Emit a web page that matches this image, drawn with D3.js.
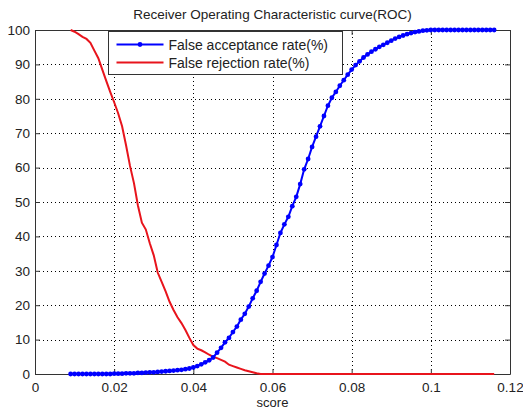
<!DOCTYPE html>
<html>
<head>
<meta charset="utf-8">
<script src="https://cdn.jsdelivr.net/npm/d3@7"></script>
<style>
  body { margin: 0; background: #fff; }
  text { font-family: "Liberation Sans", Arial, sans-serif; fill: #222; }
</style>
</head>
<body>
<div id="chart"></div>
<script>
// score thresholds (x)
let scores = [0.009, 0.010, 0.011, 0.012, 0.013, 0.014, 0.015, 0.016, 0.017, 0.018,
  0.019, 0.020, 0.021, 0.022, 0.023, 0.024, 0.025, 0.026, 0.027, 0.028,
  0.029, 0.030, 0.031, 0.032, 0.033, 0.034, 0.035, 0.036, 0.037, 0.038,
  0.039, 0.040, 0.041, 0.042, 0.043, 0.044, 0.045, 0.046, 0.047, 0.048,
  0.049, 0.050, 0.051, 0.052, 0.053, 0.054, 0.055, 0.056, 0.057, 0.058,
  0.059, 0.060, 0.061, 0.062, 0.063, 0.064, 0.065, 0.066, 0.067, 0.068,
  0.069, 0.070, 0.071, 0.072, 0.073, 0.074, 0.075, 0.076, 0.077, 0.078,
  0.079, 0.080, 0.081, 0.082, 0.083, 0.084, 0.085, 0.086, 0.087, 0.088,
  0.089, 0.090, 0.091, 0.092, 0.093, 0.094, 0.095, 0.096, 0.097, 0.098,
  0.099, 0.100, 0.101, 0.102, 0.103, 0.104, 0.105, 0.106, 0.107, 0.108,
  0.109, 0.110, 0.111, 0.112, 0.113, 0.114, 0.115, 0.116];

// False acceptance rate(%)
let far = [0, 0, 0, 0, 0, 0, 0, 0, 0, 0,
  0, 0.1, 0.1, 0.1, 0.2, 0.2, 0.2, 0.3, 0.3, 0.4,
  0.5, 0.5, 0.6, 0.7, 0.8, 0.9, 1.0, 1.1, 1.2, 1.4,
  1.6, 1.9, 2.3, 2.8, 3.4, 4.0, 4.8, 6.2, 7.6, 9.2,
  10.5, 12.2, 13.8, 15.8, 17.5, 19.6, 22.0, 24.2, 26.8, 29.2,
  31.5, 34.0, 37.5, 41.0, 43.5, 45.7, 48.8, 51.5, 55.2, 59.5,
  62.5, 66.0, 69.0, 72.0, 75.0, 78.0, 80.3, 82.0, 83.8, 85.4,
  87.0, 88.5, 89.8, 90.9, 92.0, 92.9, 93.7, 94.4, 95.1, 95.7,
  96.3, 96.9, 97.5, 98.0, 98.4, 98.8, 99.1, 99.4, 99.6, 99.8,
  99.9, 100, 100, 100, 100, 100, 100, 100, 100, 100,
  100, 100, 100, 100, 100, 100, 100, 100];

// False rejection rate(%)
let frr = [100, 99.5, 98.8, 98.0, 97.4, 96.3, 94.0, 91.8, 88.5, 85.2,
  82.0, 79.0, 75.8, 72.0, 66.5, 60.5, 55.5, 49.0, 44.0, 42.0,
  38.0, 34.5, 29.5, 26.8, 24.0, 21.0, 18.6, 16.5, 14.8, 12.8,
  10.5, 8.4, 7.4, 6.9, 6.3, 5.6, 5.0, 4.6, 4.1, 3.6,
  2.7, 2.3, 1.9, 1.5, 1.1, 0.8, 0.5, 0.2, 0, 0,
  0, 0, 0, 0, 0, 0, 0, 0, 0, 0,
  0, 0, 0, 0, 0, 0, 0, 0, 0, 0,
  0, 0, 0, 0, 0, 0, 0, 0, 0, 0,
  0, 0, 0, 0, 0, 0, 0, 0, 0, 0,
  0, 0, 0, 0, 0, 0, 0, 0, 0, 0,
  0, 0, 0, 0, 0, 0, 0, 0];

let xTicks = [0, 0.02, 0.04, 0.06, 0.08, 0.1, 0.12];
let yTicks = [0, 10, 20, 30, 40, 50, 60, 70, 80, 90, 100];
let seriesNames = ["False acceptance rate(%)", "False rejection rate(%)"];
let seriesColors = ["#0000ff", "#e8141c"];

let W = 523, H = 410;
let m = {left: 35, right: 13, top: 30, bottom: 36};

let svg = d3.select("#chart").append("svg")
  .attr("width", W)
  .attr("height", H);

let x = d3.scaleLinear().domain([0, 0.12]).range([m.left, W - m.right]);
let y = d3.scaleLinear().domain([0, 100]).range([H - m.bottom, m.top]);

//dotted grid
let grid = svg.append("g").attr("stroke", "#000").attr("stroke-width", 1)
  .attr("stroke-dasharray", "1,3");
grid.selectAll(".gx").data(xTicks.slice(1, -1)).enter().append("line")
  .attr("x1", d => Math.round(x(d)) + 0.5).attr("x2", d => Math.round(x(d)) + 0.5)
  .attr("y1", y(0)).attr("y2", y(100));
grid.selectAll(".gy").data(yTicks.slice(1, -1)).enter().append("line")
  .attr("y1", d => Math.round(y(d)) + 0.5).attr("y2", d => Math.round(y(d)) + 0.5)
  .attr("x1", x(0)).attr("x2", x(0.12));

//axes (ticks inside, like matlab)
let fmt = d => d === 0 ? "0" : String(+d.toFixed(2));
let xAxis = svg.append("g").attr("transform", "translate(0," + y(0) + ")")
  .call(d3.axisBottom(x).tickValues(xTicks).tickSizeInner(-5).tickSizeOuter(0).tickPadding(8).tickFormat(fmt));
let xTop = svg.append("g").attr("transform", "translate(0," + y(100) + ")")
  .call(d3.axisTop(x).tickValues(xTicks).tickSizeInner(-5).tickSizeOuter(0).tickFormat(""));
let yAxis = svg.append("g").attr("transform", "translate(" + x(0) + ",0)")
  .call(d3.axisLeft(y).tickValues(yTicks).tickSizeInner(-5).tickSizeOuter(0).tickPadding(5));
let yRight = svg.append("g").attr("transform", "translate(" + x(0.12) + ",0)")
  .call(d3.axisRight(y).tickValues(yTicks).tickSizeInner(-5).tickSizeOuter(0).tickFormat(""));

[xAxis, xTop, yAxis, yRight].forEach(a => {
  a.select(".domain").attr("stroke", "#333");
  a.selectAll(".tick line").attr("stroke", "#333");
  a.selectAll("text").attr("font-size", "13.5px")
    .attr("font-family", "Liberation Sans, Arial, sans-serif").attr("fill", "#222");
});

//curves
let line = d3.line().x(d => x(d[0])).y(d => y(d[1]));
let farPts = scores.map((s, i) => [s, far[i]]);
let frrPts = scores.map((s, i) => [s, frr[i]]);

svg.append("path").datum(frrPts)
  .attr("fill", "none").attr("stroke", seriesColors[1]).attr("stroke-width", 2)
  .attr("d", line);

svg.append("path").datum(farPts)
  .attr("fill", "none").attr("stroke", seriesColors[0]).attr("stroke-width", 2)
  .attr("d", line);
svg.selectAll(".mk").data(farPts).enter().append("circle")
  .attr("cx", d => x(d[0])).attr("cy", d => y(d[1])).attr("r", 2.4)
  .attr("fill", seriesColors[0]);

//title and label
svg.append("text").attr("x", (x(0) + x(0.12)) / 2).attr("y", 19)
  .attr("text-anchor", "middle").attr("font-size", "13.5px")
  .text("Receiver Operating Characteristic curve(ROC)");
svg.append("text").attr("x", (x(0) + x(0.12)) / 2).attr("y", 407)
  .attr("text-anchor", "middle").attr("font-size", "13px")
  .text("score");

//legend
let lg = svg.append("g").attr("transform", "translate(108.5,31.5)");
lg.append("rect").attr("width", 234).attr("height", 43)
  .attr("fill", "#fff").attr("stroke", "#333").attr("stroke-width", 1);
seriesNames.forEach((name, i) => {
  let ly = 13 + i * 18;
  lg.append("line").attr("x1", 8).attr("x2", 55).attr("y1", ly).attr("y2", ly)
    .attr("stroke", seriesColors[i]).attr("stroke-width", 2);
  if (i == 0) {
    lg.append("circle").attr("cx", 31.5).attr("cy", ly).attr("r", 2.4).attr("fill", seriesColors[i]);
  }
  lg.append("text").attr("x", 60).attr("y", ly + 5).attr("font-size", "14px").text(name);
});
</script>
</body>
</html>
